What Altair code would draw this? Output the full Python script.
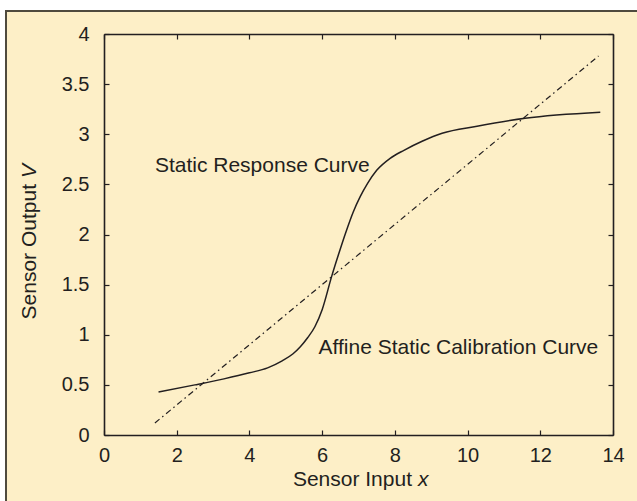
import altair as alt
import pandas as pd

# Static response curve samples: sensor input x, sensor output V
resp_x = [1.5, 2.5, 3.3, 4.0, 4.5, 4.9, 5.2, 5.4, 5.6, 5.8, 6.0, 6.26, 6.45, 6.65, 6.85, 7.05, 7.25, 7.5, 7.87, 8.25, 8.75, 9.3, 10.26, 11.58, 13.65]
resp_v = [0.43, 0.50, 0.56, 0.62, 0.67, 0.74, 0.81, 0.88, 0.97, 1.08, 1.25, 1.58, 1.80, 2.02, 2.22, 2.38, 2.51, 2.64, 2.76, 2.84, 2.93, 3.01, 3.08, 3.16, 3.22]

# Affine static calibration line (end points)
cal_x = [1.4, 13.6]
cal_v = [0.12, 3.78]

# Curve annotations
note_text = ["Static Response Curve", "Affine Static Calibration Curve"]
note_x = [1.4, 5.9]
note_v = [2.68, 0.87]

x_ticks = [0, 2, 4, 6, 8, 10, 12, 14]
y_ticks = [0, 0.5, 1, 1.5, 2, 2.5, 3, 3.5, 4]

W, H = 509, 401
INK = "#231f20"
CREAM = "#fdefc7"
FONT = "Liberation Sans"
TICK_FS = 20
TEXT_FS = 21
GAP = 6  # word space before the italic symbol

resp = pd.DataFrame({"x": resp_x, "v": resp_v})
cal = pd.DataFrame({"x": cal_x, "v": cal_v})
notes = pd.DataFrame({"x": note_x, "v": note_v, "label": note_text})
one = pd.DataFrame({"k": [0]})

xs = alt.Scale(domain=[0, 14], nice=False, zero=False)
ys = alt.Scale(domain=[0, 4], nice=False, zero=False)


def label_axis(orient, values, pad):
    return alt.Axis(orient=orient, values=values, format="~g", grid=False, domain=False,
                    ticks=False, tickSize=0, labelPadding=pad, labelFont=FONT,
                    labelFontSize=TICK_FS, labelColor=INK, title=None, zindex=1,
                    labelFlush=False, labelOverlap=False)


def frame_axis(orient, values, offset):
    # an axis moved onto the opposite edge so its ticks point into the plot
    return alt.Axis(orient=orient, offset=offset, values=values, grid=False, labels=False,
                    domain=True, domainColor=INK, domainWidth=1.6, ticks=True, tickSize=5,
                    tickColor=INK, tickWidth=1.2, title=None, zindex=1)


# cream panel with a dark edge behind the whole figure
panel = alt.Chart(one).mark_rect(fill=CREAM, stroke="#4f4a3e", strokeWidth=2).encode(
    x=alt.value(-98), x2=alt.value(W + 40), y=alt.value(-23), y2=alt.value(H + 80)
)

curve = alt.Chart(resp).mark_line(color=INK, strokeWidth=1.5, interpolate="monotone").encode(
    x=alt.X("x:Q", scale=xs, axis=label_axis("bottom", x_ticks, 10)),
    y=alt.Y("v:Q", scale=ys, axis=label_axis("left", y_ticks, 15)),
)

calib = alt.Chart(cal).mark_line(color=INK, strokeWidth=1.2, strokeDash=[6, 3.5, 1.5, 3.5]).encode(
    x=alt.X("x:Q", scale=xs, axis=frame_axis("top", x_ticks, -H)),
    y=alt.Y("v:Q", scale=ys, axis=frame_axis("right", y_ticks, -W)),
)

labels = alt.Chart(notes).mark_text(align="left", baseline="middle", font=FONT,
                                    fontSize=TEXT_FS, color=INK).encode(
    x=alt.X("x:Q", scale=xs, axis=frame_axis("bottom", x_ticks, -H)),
    y=alt.Y("v:Q", scale=ys, axis=frame_axis("left", y_ticks, -W)),
    text="label:N",
)

# axis titles with an italic variable name
xt_split = 308
xt_base = 452
x_title_a = alt.Chart(one).mark_text(align="right", baseline="alphabetic", font=FONT,
                                     fontSize=TEXT_FS, color=INK).encode(
    x=alt.value(xt_split), y=alt.value(xt_base), text=alt.value("Sensor Input"))
x_title_b = alt.Chart(one).mark_text(align="left", baseline="alphabetic", font=FONT, dx=GAP,
                                     fontSize=TEXT_FS, fontStyle="italic", color=INK).encode(
    x=alt.value(xt_split), y=alt.value(xt_base), text=alt.value("x"))

yt_split = 150
y_title_a = alt.Chart(one).mark_text(align="right", baseline="middle", angle=270, font=FONT,
                                     fontSize=TEXT_FS, color=INK).encode(
    x=alt.value(-74), y=alt.value(yt_split), text=alt.value("Sensor Output"))
y_title_b = alt.Chart(one).mark_text(align="left", baseline="middle", angle=270, font=FONT,
                                     dx=GAP, fontSize=TEXT_FS, fontStyle="italic",
                                     color=INK).encode(
    x=alt.value(-74), y=alt.value(yt_split), text=alt.value("V"))

chart = alt.layer(
    panel, curve, calib, labels, x_title_a, x_title_b, y_title_a, y_title_b
).resolve_axis(x="independent", y="independent").properties(
    width=W, height=H,
    padding={"left": 104, "top": 34, "right": 24, "bottom": 66},
    autosize=alt.AutoSizeParams(type="none"),
    background="white",
).configure_view(stroke=None)

chart.save("out.html", embed_options={"renderer": "svg", "actions": False})
